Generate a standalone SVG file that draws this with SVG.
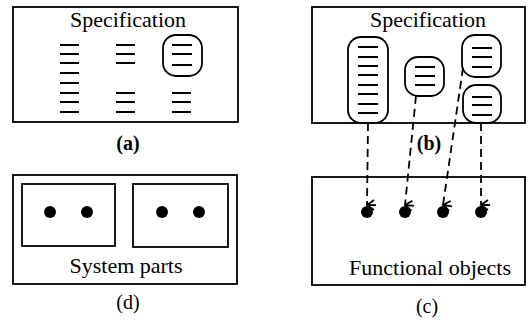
<svg xmlns="http://www.w3.org/2000/svg" width="530" height="320" viewBox="0 0 530 320">
<style>
.box{fill:none;stroke:#000;stroke-width:1.8}
.rr{fill:none;stroke:#000;stroke-width:1.8}
.ln{stroke:#000;stroke-width:2}
text{font-family:'Liberation Serif','DejaVu Serif',serif;text-anchor:middle;fill:#000}
.t{font-size:22px}
.lb{font-size:20px}
.b{font-weight:bold}
.dash{fill:none;stroke:#000;stroke-width:1.8;stroke-dasharray:8 5}
.dot{fill:#000}
</style>
<defs>
<marker id="arr" markerWidth="12" markerHeight="12" refX="6" refY="10" orient="auto-start-reverse" markerUnits="userSpaceOnUse" viewBox="0 0 12 12">
<path d="M1,3 L6,10 L11,3 M6,10 L6,1" fill="none" stroke="#000" stroke-width="1.8"/>
</marker>
</defs>
<g id="panel-a">
<rect class="box" x="13" y="7" width="225" height="115"/>
<text class="t" x="128" y="27" font-family="Liberation Serif, DejaVu Serif, serif">Specification</text>
<g class="ln">
<line x1="60" y1="45" x2="79" y2="45"/><line x1="60" y1="54" x2="79" y2="54"/><line x1="60" y1="63" x2="79" y2="63"/><line x1="60" y1="73" x2="79" y2="73"/><line x1="60" y1="83" x2="79" y2="83"/><line x1="60" y1="93" x2="79" y2="93"/><line x1="60" y1="102" x2="79" y2="102"/><line x1="60" y1="112" x2="79" y2="112"/>
<line x1="116" y1="45" x2="135" y2="45"/><line x1="116" y1="54" x2="135" y2="54"/><line x1="116" y1="63" x2="135" y2="63"/>
<line x1="116" y1="93" x2="135" y2="93"/><line x1="116" y1="102" x2="135" y2="102"/><line x1="116" y1="112" x2="135" y2="112"/>
<line x1="172" y1="45" x2="192" y2="45"/><line x1="172" y1="54" x2="192" y2="54"/><line x1="172" y1="65" x2="192" y2="65"/>
<line x1="172" y1="93" x2="191" y2="93"/><line x1="172" y1="102" x2="191" y2="102"/><line x1="172" y1="112" x2="191" y2="112"/>
</g>
<rect class="rr" x="163" y="35" width="39" height="41" rx="13"/>
<text class="lb b" x="128" y="150" font-family="Liberation Serif, DejaVu Serif, serif">(a)</text>
</g>
<g id="panel-b">
<rect class="box" x="312" y="7" width="213" height="116"/>
<text class="t" x="428" y="27" font-family="Liberation Serif, DejaVu Serif, serif">Specification</text>
<rect class="rr" x="348" y="37" width="40" height="86" rx="13"/>
<rect class="rr" x="405" y="57" width="39" height="39" rx="13"/>
<rect class="rr" x="462" y="35" width="39" height="42" rx="13"/>
<rect class="rr" x="463" y="85" width="38" height="38" rx="13"/>
<g class="ln">
<line x1="358" y1="47" x2="378" y2="47"/><line x1="358" y1="57" x2="378" y2="57"/><line x1="358" y1="66" x2="378" y2="66"/><line x1="358" y1="75" x2="378" y2="75"/><line x1="358" y1="85" x2="378" y2="85"/><line x1="358" y1="94" x2="378" y2="94"/><line x1="358" y1="104" x2="378" y2="104"/><line x1="358" y1="113" x2="378" y2="113"/>
<line x1="415" y1="67" x2="435" y2="67"/><line x1="415" y1="76" x2="435" y2="76"/><line x1="415" y1="85" x2="435" y2="85"/>
<line x1="472" y1="48" x2="492" y2="48"/><line x1="472" y1="57" x2="492" y2="57"/><line x1="472" y1="67" x2="492" y2="67"/>
<line x1="472" y1="97" x2="492" y2="97"/><line x1="472" y1="105" x2="492" y2="105"/><line x1="472" y1="115" x2="492" y2="115"/>
</g>
<text class="lb b" x="429" y="150" font-family="Liberation Serif, DejaVu Serif, serif">(b)</text>
</g>
<g id="panel-c">
<rect class="box" x="312" y="177" width="213" height="108"/>
<circle class="dot" cx="367" cy="212" r="6"/>
<circle class="dot" cx="405" cy="212" r="6"/>
<circle class="dot" cx="443" cy="212" r="6"/>
<circle class="dot" cx="481" cy="212" r="6"/>
<text class="t" x="430" y="275" font-family="Liberation Serif, DejaVu Serif, serif">Functional objects</text>
<text class="lb" x="427" y="313" font-family="Liberation Serif, DejaVu Serif, serif">(c)</text>
</g>
<g id="panel-d">
<rect class="box" x="13" y="175" width="224" height="109"/>
<rect class="box" x="22" y="184" width="93" height="62"/>
<rect class="box" x="133" y="184" width="95" height="63"/>
<circle class="dot" cx="50" cy="212" r="6"/>
<circle class="dot" cx="87" cy="212" r="6"/>
<circle class="dot" cx="162" cy="212" r="6"/>
<circle class="dot" cx="199" cy="212" r="6"/>
<text class="t" x="126" y="273" font-family="Liberation Serif, DejaVu Serif, serif">System parts</text>
<text class="lb" x="128" y="309" font-family="Liberation Serif, DejaVu Serif, serif">(d)</text>
</g>
<g id="connectors">
<line class="dash" x1="368" y1="123" x2="367" y2="205" marker-end="url(#arr)"/>
<line class="dash" x1="416" y1="96" x2="405" y2="205" marker-end="url(#arr)"/>
<line class="dash" x1="463" y1="68" x2="443" y2="205" marker-end="url(#arr)"/>
<line class="dash" x1="481" y1="123" x2="481" y2="205" marker-end="url(#arr)"/>
</g>
</svg>
